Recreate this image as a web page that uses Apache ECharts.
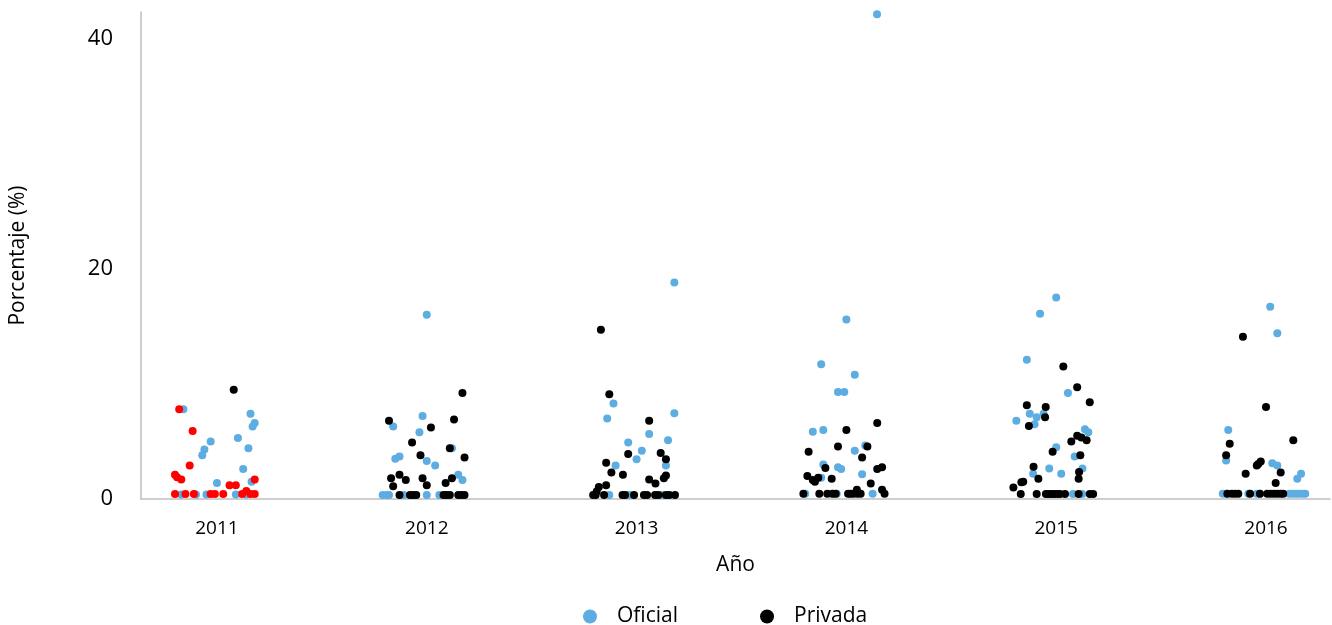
<!DOCTYPE html>
<html>
<head>
<meta charset="utf-8">
<script src="https://cdn.jsdelivr.net/npm/echarts@6/dist/echarts.min.js"></script>
<style>
  html, body { margin: 0; padding: 0; background: #fff; }
  #box { width: 1332px; height: 625px; }
</style>
</head>
<body>
<div id="box"></div>
<script>
var years = [2011, 2012, 2013, 2014, 2015, 2016];
var yTicks = [0, 20, 40];

// [year, jitter offset, porcentaje]
var oficial = [
  [2011, -0.16, 7.8], [2011, -0.03, 5.0], [2011, -0.06, 4.3], [2011, -0.07, 3.8], [2011, 0.0, 1.4],
  [2011, -0.17, 0.4], [2011, -0.10, 0.4], [2011, -0.05, 0.4], [2011, 0.10, 5.3], [2011, 0.16, 7.4],
  [2011, 0.18, 6.6], [2011, 0.17, 6.3], [2011, 0.15, 4.4], [2011, 0.125, 2.6], [2011, 0.165, 1.5],
  [2011, 0.09, 0.4], [2011, 0.14, 0.4],
  [2012, 0.0, 16.0], [2012, -0.02, 7.2], [2012, -0.16, 6.3], [2012, -0.035, 5.8], [2012, -0.13, 3.7],
  [2012, -0.15, 3.5], [2012, 0.0, 3.3], [2012, 0.04, 2.9], [2012, 0.12, 4.4], [2012, 0.15, 2.1],
  [2012, 0.17, 1.65], [2012, -0.21, 0.35], [2012, -0.19, 0.35], [2012, -0.18, 0.35], [2012, -0.11, 0.35],
  [2012, 0.0, 0.35], [2012, 0.06, 0.35],
  [2013, 0.18, 18.8], [2013, -0.11, 8.3], [2013, -0.14, 7.0], [2013, 0.18, 7.45], [2013, 0.06, 5.65],
  [2013, -0.04, 4.9], [2013, 0.15, 5.1], [2013, 0.025, 4.2], [2013, 0.0, 3.45], [2013, -0.10, 2.9],
  [2013, 0.14, 2.9], [2013, -0.13, 0.35], [2013, -0.04, 0.35], [2013, -0.03, 0.35], [2013, 0.12, 0.35],
  [2014, 0.146, 42.1], [2014, 0.0, 15.6], [2014, -0.12, 11.7], [2014, 0.04, 10.8], [2014, -0.04, 9.3],
  [2014, -0.01, 9.3], [2014, -0.16, 5.85], [2014, -0.11, 6.0], [2014, 0.09, 4.65], [2014, 0.04, 4.2],
  [2014, -0.11, 3.0], [2014, -0.04, 2.75], [2014, -0.025, 2.6], [2014, -0.12, 1.85], [2014, 0.075, 2.15],
  [2014, -0.196, 0.45], [2014, -0.07, 0.45], [2014, -0.046, 0.45], [2014, 0.125, 0.45],
  [2015, 0.0, 17.5], [2015, -0.077, 16.1], [2015, -0.14, 12.1], [2015, 0.056, 9.2], [2015, -0.19, 6.8],
  [2015, -0.126, 7.4], [2015, -0.093, 7.1], [2015, -0.103, 6.5], [2015, -0.06, 7.4], [2015, 0.137, 6.05],
  [2015, 0.153, 5.8], [2015, 0.0, 4.5], [2015, 0.088, 3.7], [2015, -0.033, 2.65], [2015, 0.024, 2.2],
  [2015, 0.125, 2.65], [2015, -0.11, 2.2], [2015, 0.08, 0.43], [2015, 0.124, 0.43],
  [2016, 0.02, 16.7], [2016, 0.054, 14.4], [2016, -0.18, 6.0], [2016, -0.19, 3.35], [2016, 0.03, 3.1],
  [2016, 0.054, 2.9], [2016, 0.167, 2.2], [2016, 0.149, 1.75], [2016, -0.206, 0.45], [2016, -0.19, 0.45],
  [2016, -0.084, 0.45], [2016, -0.044, 0.45], [2016, -0.029, 0.45], [2016, 0.111, 0.45], [2016, 0.127, 0.45],
  [2016, 0.143, 0.45], [2016, 0.159, 0.45], [2016, 0.175, 0.45], [2016, 0.187, 0.45]
];

var privada = [
  [2011, 0.08, 9.5],
  [2012, 0.17, 9.2], [2012, -0.18, 6.8], [2012, 0.13, 6.9], [2012, 0.02, 6.2], [2012, -0.07, 4.9],
  [2012, 0.11, 4.4], [2012, -0.03, 3.8], [2012, 0.18, 3.6], [2012, -0.17, 1.8], [2012, -0.13, 2.1],
  [2012, -0.16, 1.1], [2012, -0.10, 1.65], [2012, -0.02, 1.8], [2012, 0.0, 1.2], [2012, 0.09, 1.4],
  [2012, 0.12, 1.8], [2012, -0.13, 0.35], [2012, -0.08, 0.35], [2012, -0.065, 0.35], [2012, -0.05, 0.35],
  [2012, 0.08, 0.35], [2012, 0.095, 0.35], [2012, 0.11, 0.35], [2012, 0.15, 0.35], [2012, 0.165, 0.35],
  [2012, 0.18, 0.35],
  [2013, -0.17, 14.7], [2013, -0.13, 9.1], [2013, 0.06, 6.8], [2013, 0.115, 4.0], [2013, -0.04, 3.9],
  [2013, 0.14, 3.45], [2013, -0.145, 3.15], [2013, -0.12, 2.3], [2013, -0.065, 2.1], [2013, 0.14, 2.05],
  [2013, 0.13, 1.8], [2013, 0.06, 1.7], [2013, 0.09, 1.35], [2013, -0.145, 1.2], [2013, -0.18, 1.05],
  [2013, -0.19, 0.65], [2013, -0.207, 0.35], [2013, -0.195, 0.35], [2013, -0.155, 0.35], [2013, -0.067, 0.35],
  [2013, -0.055, 0.35], [2013, -0.012, 0.35], [2013, 0.035, 0.35], [2013, 0.05, 0.35], [2013, 0.088, 0.35],
  [2013, 0.104, 0.35], [2013, 0.14, 0.35], [2013, 0.156, 0.35], [2013, 0.183, 0.35],
  [2014, 0.147, 6.6], [2014, 0.0, 6.0], [2014, -0.04, 4.55], [2014, 0.10, 4.55], [2014, -0.18, 4.1],
  [2014, 0.075, 3.6], [2014, -0.10, 2.7], [2014, 0.17, 2.75], [2014, 0.147, 2.6], [2014, -0.186, 2.0],
  [2014, -0.16, 1.65], [2014, -0.134, 1.85], [2014, -0.15, 1.5], [2014, -0.07, 1.75], [2014, 0.116, 1.35],
  [2014, 0.05, 0.8], [2014, 0.17, 0.8], [2014, -0.205, 0.45], [2014, -0.129, 0.45], [2014, -0.091, 0.45],
  [2014, -0.065, 0.45], [2014, -0.051, 0.45], [2014, 0.008, 0.45], [2014, 0.02, 0.45], [2014, 0.033, 0.45],
  [2014, 0.052, 0.45], [2014, 0.068, 0.45], [2014, 0.182, 0.45],
  [2015, 0.034, 11.5], [2015, 0.10, 9.7], [2015, 0.16, 8.4], [2015, -0.14, 8.15], [2015, -0.05, 8.0],
  [2015, -0.053, 7.1], [2015, -0.13, 6.35], [2015, 0.10, 5.5], [2015, 0.12, 5.35], [2015, 0.145, 5.1],
  [2015, 0.072, 5.0], [2015, -0.017, 4.1], [2015, 0.115, 3.8], [2015, -0.108, 2.8], [2015, 0.109, 2.35],
  [2015, -0.085, 1.75], [2015, 0.107, 1.75], [2015, -0.166, 1.45], [2015, -0.157, 1.5], [2015, -0.204, 1.0],
  [2015, -0.169, 0.43], [2015, -0.093, 0.43], [2015, -0.049, 0.43], [2015, -0.036, 0.43], [2015, -0.023, 0.43],
  [2015, -0.01, 0.43], [2015, 0.005, 0.43], [2015, 0.018, 0.43], [2015, 0.042, 0.43], [2015, 0.107, 0.43],
  [2015, 0.16, 0.43], [2015, 0.176, 0.43],
  [2016, -0.11, 14.1], [2016, 0.0, 8.0], [2016, 0.13, 5.1], [2016, -0.173, 4.8], [2016, -0.19, 3.8],
  [2016, -0.025, 3.25], [2016, -0.037, 3.05], [2016, -0.044, 2.9], [2016, -0.097, 2.2], [2016, 0.07, 2.3],
  [2016, 0.046, 1.4], [2016, -0.184, 0.45], [2016, -0.163, 0.45], [2016, -0.148, 0.45], [2016, -0.132, 0.45],
  [2016, -0.076, 0.45], [2016, -0.029, 0.45], [2016, 0.006, 0.45], [2016, 0.022, 0.45], [2016, 0.038, 0.45],
  [2016, 0.054, 0.45], [2016, 0.07, 0.45], [2016, 0.082, 0.45]
];

// puntos rojos (2011), sin entrada en la leyenda
var rojo = [
  [2011, -0.18, 7.8], [2011, -0.116, 5.9], [2011, -0.13, 2.9], [2011, -0.20, 2.1], [2011, -0.19, 1.9],
  [2011, -0.17, 1.7], [2011, -0.20, 0.43], [2011, -0.15, 0.43], [2011, -0.11, 0.43], [2011, -0.03, 0.43],
  [2011, -0.01, 0.43], [2011, 0.03, 0.43], [2011, 0.06, 1.2], [2011, 0.09, 1.2], [2011, 0.12, 0.43],
  [2011, 0.14, 0.7], [2011, 0.16, 0.43], [2011, 0.18, 0.43], [2011, 0.18, 1.7]
];

function toPoints(list) {
  return list.map(function (d) { return [d[0] + d[1], d[2]]; });
}

var chart = echarts.init(document.getElementById('box'));
var fontFam = 'Open Sans';

var option = {
  animation: false,
  textStyle: { fontFamily: fontFam, color: '#000' },
  grid: { left: 141, right: 2, top: 12, bottom: 126 },
  legend: {
    data: ['Oficial', 'Privada'],
    top: 606,
    left: 583,
    padding: 0,
    icon: 'circle',
    itemWidth: 14,
    itemHeight: 14,
    itemGap: 82,
    textStyle: { fontFamily: fontFam, fontSize: 21, color: '#000', padding: [0, 0, 0, 15] }
  },
  xAxis: {
    type: 'value',
    min: 2010.638,
    max: 2016.305,
    name: 'Año',
    nameLocation: 'middle',
    nameGap: 56,
    nameTextStyle: { fontFamily: fontFam, fontSize: 21, color: '#000' },
    axisLine: { lineStyle: { color: '#bfbfbf', width: 1.5 } },
    axisTick: { show: false },
    splitLine: { show: false },
    axisLabel: {
      customValues: years,
      margin: 20,
      fontSize: 19,
      color: '#000',
      formatter: function (v) { return String(Math.round(v)); }
    }
  },
  yAxis: {
    type: 'value',
    min: 0,
    max: 42.3,
    name: 'Porcentaje (%)',
    nameLocation: 'middle',
    nameGap: 112,
    nameRotate: 90,
    nameTextStyle: { fontFamily: fontFam, fontSize: 21, color: '#000' },
    axisLine: { show: true, lineStyle: { color: '#bfbfbf', width: 1.5 } },
    axisTick: { show: false },
    splitLine: { show: false },
    axisLabel: {
      customValues: yTicks,
      margin: 28,
      fontSize: 22,
      color: '#000',
      padding: [4, 0, 0, 0]
    }
  },
  series: [
    {
      name: 'Oficial',
      type: 'scatter',
      symbolSize: 8,
      itemStyle: { color: '#5dade2', opacity: 1 },
      data: toPoints(oficial)
    },
    {
      name: 'Privada',
      type: 'scatter',
      symbolSize: 8,
      itemStyle: { color: '#000000', opacity: 1 },
      data: toPoints(privada)
    },
    {
      name: 'Rojo',
      type: 'scatter',
      symbolSize: 8,
      itemStyle: { color: '#ff0000', opacity: 1 },
      data: toPoints(rojo)
    }
  ]
};

chart.setOption(option);
</script>
</body>
</html>
